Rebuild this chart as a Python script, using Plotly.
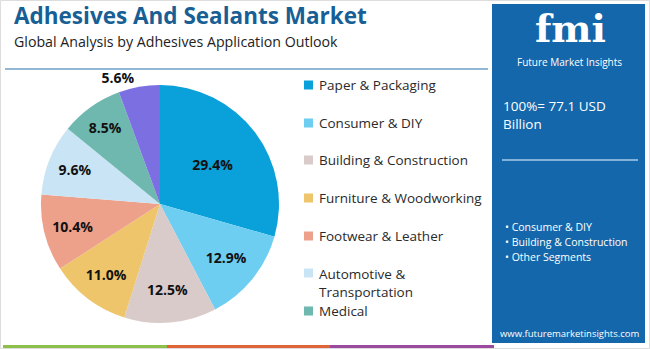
import plotly.graph_objects as go

W, H = 650, 349

categories = ["Paper & Packaging", "Consumer & DIY", "Building & Construction",
              "Furniture & Woodworking", "Footwear & Leather",
              "Automotive & Transportation", "Medical", "Others"]
legend_labels = ["Paper & Packaging", "Consumer & DIY", "Building & Construction",
                 "Furniture & Woodworking", "Footwear & Leather",
                 "Automotive &<br>Transportation", "Medical"]
shares = [29.4, 12.9, 12.5, 11.0, 10.4, 9.6, 8.5, 5.6]
colors = ["#0AA0DA", "#6DCEF2", "#D8CBC9", "#EEC56B", "#EDA08A",
          "#C9E4F4", "#6EB8AF", "#7B6FE2"]
text_pos = ["inside"] * 7 + ["outside"]

title = "Adhesives And Sealants Market"
subtitle = "Global Analysis by Adhesives Application Outlook"
total_text = "100%= 77.1 USD<br>Billion"
bullets = ["Consumer & DIY", "Building & Construction", "Other Segments"]
url = "www.futuremarketinsights.com"


def px(x):
    return x / W


def py(y):
    return 1 - y / H


cx, cy, r = 160, 204, 119

fig = go.Figure()
fig.add_trace(go.Pie(
    labels=categories, values=shares, sort=False, direction="clockwise",
    rotation=0,
    marker=dict(colors=colors, line=dict(color="white", width=0)),
    texttemplate="<b>%{value:.1f}%</b>", textposition=text_pos,
    insidetextorientation="horizontal",
    textfont=dict(family="Open Sans", size=14, color="#111111"),
    outsidetextfont=dict(family="Open Sans", size=14, color="#111111"),
    domain=dict(x=[px(cx - r), px(cx + r)], y=[py(cy + r), py(cy - r)]),
    showlegend=False, hoverinfo="label+value",
))

shapes = []
annotations = []

# outer border
shapes.append(dict(type="rect", xref="paper", yref="paper", x0=px(0.5), x1=px(649.5),
                   y0=py(348.5), y1=py(0.5), line=dict(color="#DDDDDD", width=1)))
# separator line
shapes.append(dict(type="line", xref="paper", yref="paper", x0=px(5), x1=px(488),
                   y0=py(69), y1=py(69), line=dict(color="#6E9FC6", width=1.5)))
# bottom colour stripes
for x0, x1, c in [(3, 167, "#8DC04A"), (167, 330, "#E0643A"), (330, 494, "#9B4AA0")]:
    shapes.append(dict(type="rect", xref="paper", yref="paper", x0=px(x0), x1=px(x1),
                       y0=py(348), y1=py(345), fillcolor=c, line=dict(width=0)))
# right panel
shapes.append(dict(type="rect", xref="paper", yref="paper", x0=px(492), x1=px(645),
                   y0=py(343), y1=py(4), fillcolor="#1467AB", line=dict(width=0),
                   layer="below"))
# panel divider
shapes.append(dict(type="line", xref="paper", yref="paper", x0=px(502), x1=px(638),
                   y0=py(160), y1=py(160), line=dict(color="#A8CBEB", width=1.5)))

# Title / subtitle
annotations.append(dict(text=f"<b>{title}</b>", x=px(12), y=py(15.5), xref="paper", yref="paper",
                        xanchor="left", yanchor="middle", showarrow=False,
                        font=dict(family="Open Sans", size=22.5, color="#185F95")))
annotations.append(dict(text=subtitle, x=px(12), y=py(41.5), xref="paper", yref="paper",
                        xanchor="left", yanchor="middle", showarrow=False,
                        font=dict(family="Open Sans", size=14.2, color="#222222")))

# legend
leg_y = [85, 123, 160, 198, 236, 283, 311]
for lab, col, yy in zip(legend_labels, colors, leg_y):
    sq_y = yy if "<br>" not in lab else yy - 10
    shapes.append(dict(type="rect", xref="paper", yref="paper", x0=px(304), x1=px(313),
                       y0=py(sq_y + 4.5), y1=py(sq_y - 4.5), fillcolor=col, line=dict(width=0)))
    annotations.append(dict(text=lab, x=px(317), y=py(yy), xref="paper", yref="paper",
                            xanchor="left", yanchor="middle", showarrow=False, align="left",
                            font=dict(family="Open Sans", size=13.5, color="#2A2A2A")))

# logo
annotations.append(dict(text="<b>fmi</b>", x=px(570), y=py(28), xref="paper", yref="paper",
                        xanchor="center", yanchor="middle", showarrow=False,
                        font=dict(family="DejaVu Serif", size=38, color="white")))
for yy in range(14, 50, 3):
    shapes.append(dict(type="line", xref="paper", yref="paper", x0=px(515), x1=px(630),
                       y0=py(yy), y1=py(yy), line=dict(color="#1467AB", width=0.8)))
annotations.append(dict(text="Future Market Insights", x=px(569), y=py(62), xref="paper",
                        yref="paper", xanchor="center", yanchor="middle", showarrow=False,
                        font=dict(family="Open Sans", size=10, color="white")))

annotations.append(dict(text=total_text, x=px(501), y=py(115), xref="paper", yref="paper",
                        xanchor="left", yanchor="middle", showarrow=False, align="left",
                        font=dict(family="Open Sans", size=13.5, color="white")))
for i, b in enumerate(bullets):
    annotations.append(dict(text="• " + b, x=px(503), y=py(227 + i * 15), xref="paper",
                            yref="paper", xanchor="left", yanchor="middle", showarrow=False,
                            font=dict(family="Open Sans", size=10.5, color="white")))
annotations.append(dict(text=url, x=px(570), y=py(333), xref="paper", yref="paper",
                        xanchor="center", yanchor="middle", showarrow=False,
                        font=dict(family="Open Sans", size=9.5, color="white")))

fig.update_layout(width=W, height=H, margin=dict(l=0, r=0, t=0, b=0),
                  paper_bgcolor="white", plot_bgcolor="white",
                  shapes=shapes, annotations=annotations)
fig.write_html("out.html")
